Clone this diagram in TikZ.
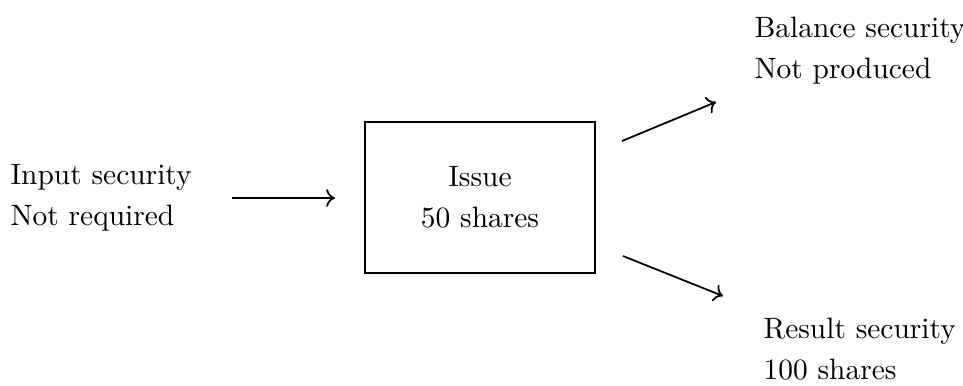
\documentclass[tikz,border=0pt]{standalone}
\usetikzlibrary{arrows.meta}
\begin{document}
\begin{tikzpicture}[x=0.3396pt,y=-0.3396pt,
  label text/.style={inner sep=0pt, align=left, anchor=west},
  flow/.style={line width=0.6pt, -{To[length=3pt,width=6pt]}},
  opbox/.style={draw, line width=0.6pt, minimum width=230*0.3396pt, minimum height=151*0.3396pt, align=center}]
  \useasboundingbox (0,0) rectangle (963,385);

  % input, operation and outputs
  \node[label text] (input) at (10,198) {Input security\\[2pt]Not required};
  \node[opbox] (issue) at (480,197.5) {Issue\\[2pt]50 shares};
  \node[label text] (balance) at (754,51) {Balance security\\[2pt]Not produced};
  \node[label text] (result) at (763,349) {Result security\\[2pt]100 shares};

  % arrow end points
  \coordinate (inA) at (232,198);
  \coordinate (inB) at (335,198);
  \coordinate (upA) at (622,141);
  \coordinate (upB) at (716,102);
  \coordinate (dnA) at (623,256);
  \coordinate (dnB) at (723,296);

  \draw[flow] (inA) -- (inB);
  \draw[flow] (upA) -- (upB);
  \draw[flow] (dnA) -- (dnB);
\end{tikzpicture}
\end{document}
